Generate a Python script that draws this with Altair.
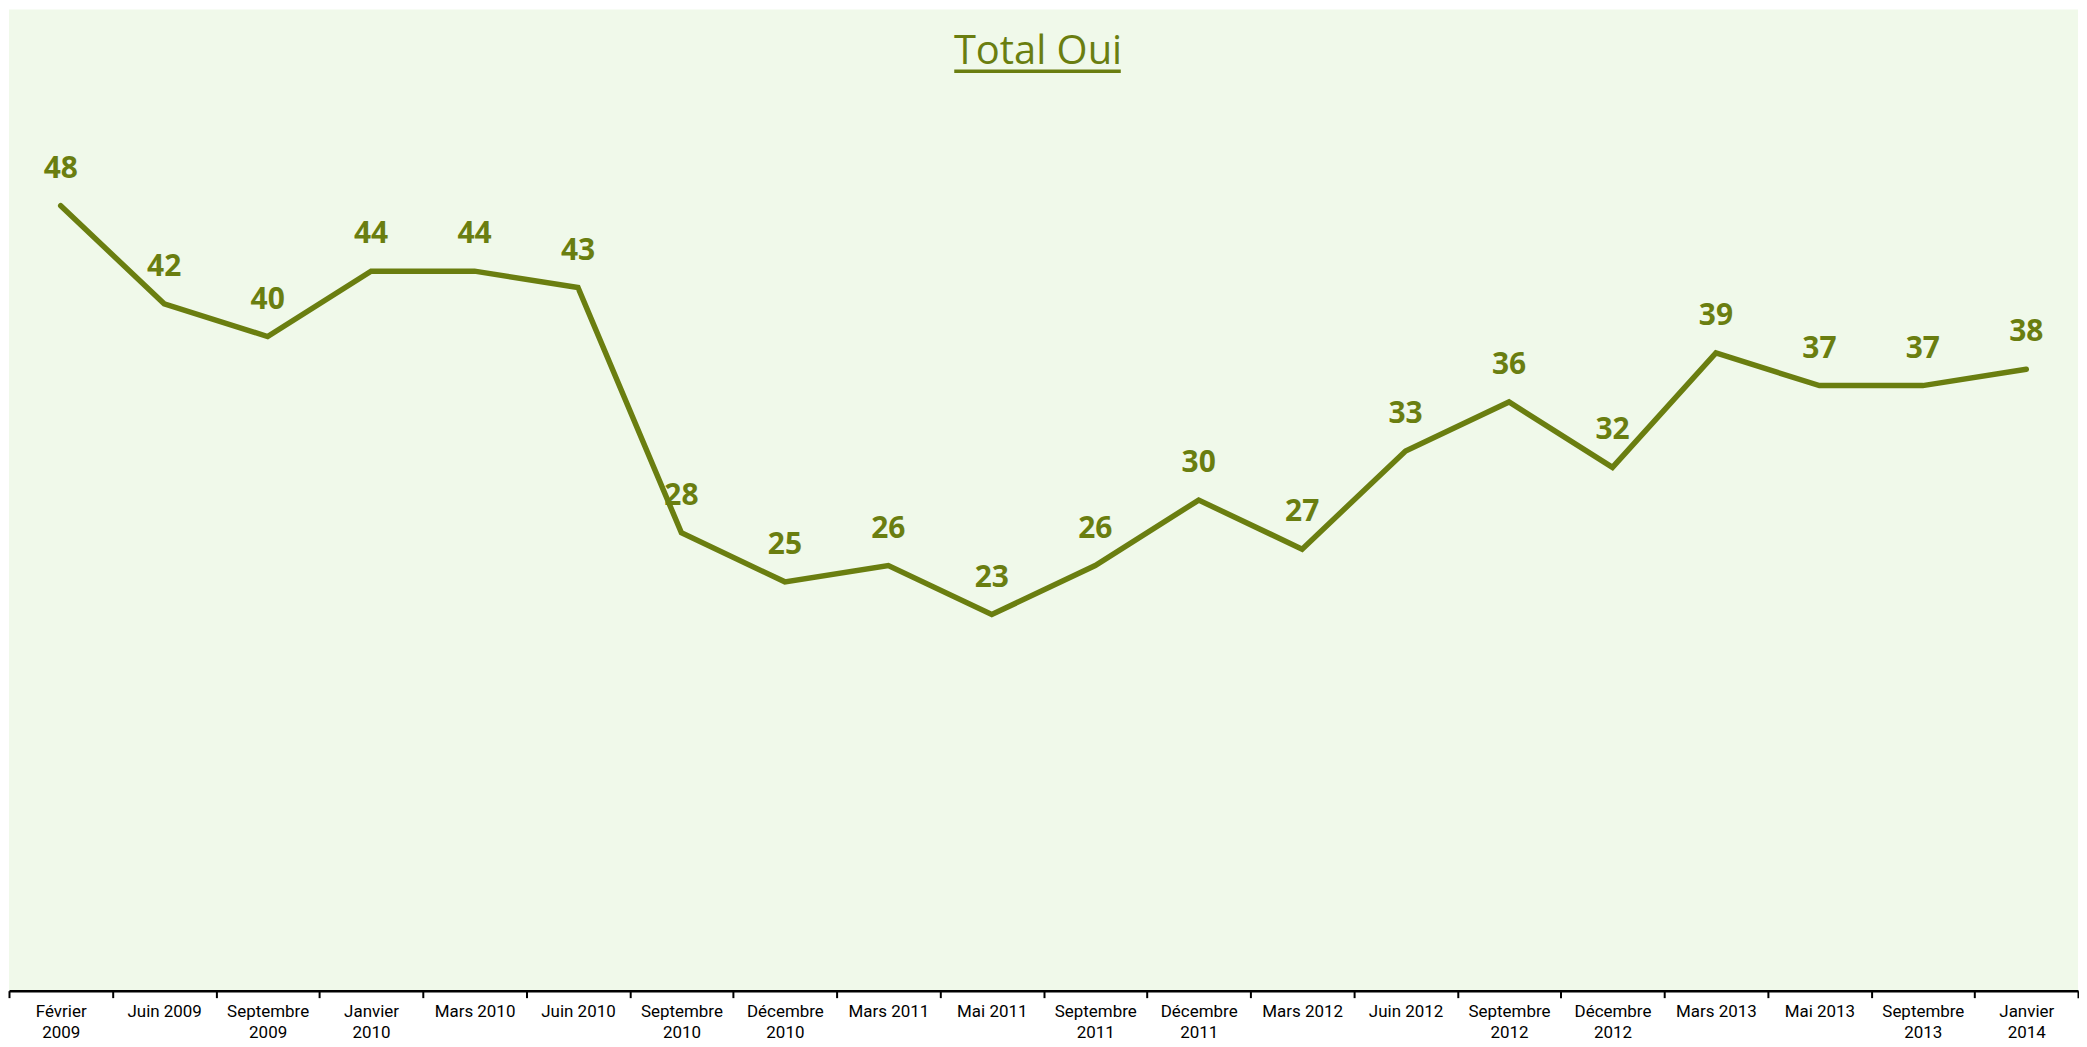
import altair as alt
import pandas as pd

periods = ["Février 2009", "Juin 2009", "Septembre 2009", "Janvier 2010", "Mars 2010",
           "Juin 2010", "Septembre 2010", "Décembre 2010", "Mars 2011", "Mai 2011",
           "Septembre 2011", "Décembre 2011", "Mars 2012", "Juin 2012", "Septembre 2012",
           "Décembre 2012", "Mars 2013", "Mai 2013", "Septembre 2013", "Janvier 2014"]
values = [48, 42, 40, 44, 44, 43, 28, 25, 26, 23, 26, 30, 27, 33, 36, 32, 39, 37, 37, 38]

title_text = "Total Oui"
olive = "#6A7E10"

df = pd.DataFrame({"periode": periods, "oui": values})

W, H = 2075, 984

x = alt.X("periode:N", sort=periods, title=None,
          scale=alt.Scale(paddingInner=0, paddingOuter=0),
          axis=alt.Axis(labelAngle=0, tickBand="extent", tickSize=7, tickWidth=2,
                        tickColor="black", domainColor="black", domainWidth=2.5,
                        labelFont="Roboto", labelFontSize=17,
                        labelColor="black", labelPadding=6, labelLineHeight=21,
                        labelExpr="length(datum.label) > 9 ? split(datum.label, ' ') : datum.label"))
y = alt.Y("oui:Q", scale=alt.Scale(domain=[0, 60]), axis=None)

base = alt.Chart(df)

line = base.mark_line(color=olive, strokeWidth=5.5, strokeCap="round", strokeJoin="miter").encode(x=x, y=y)
labels = base.mark_text(color=olive, font="Open Sans", fontSize=30, fontWeight="bold",
                        baseline="alphabetic", dy=-28).encode(x=x, y=y, text="oui:Q")

title = alt.Chart(pd.DataFrame({"t": [title_text]})).mark_text(
    color=olive, font="Open Sans", fontSize=40, fontWeight=500, baseline="alphabetic", align="center"
).encode(x=alt.value(1032), y=alt.value(55), text="t:N")
underline = alt.Chart(pd.DataFrame({"t": [title_text]})).mark_rule(
    color=olive, strokeWidth=3.5
).encode(x=alt.value(948), x2=alt.value(1115), y=alt.value(62))

chart = alt.layer(line, labels, title, underline).properties(
    width=W, height=H, background="white",
    padding={"left": 0, "top": 0, "right": 0, "bottom": 4}
).configure_view(fill="#F0F9EA", strokeWidth=0)

chart.save("out.html", embed_options={"renderer": "svg", "actions": False})
